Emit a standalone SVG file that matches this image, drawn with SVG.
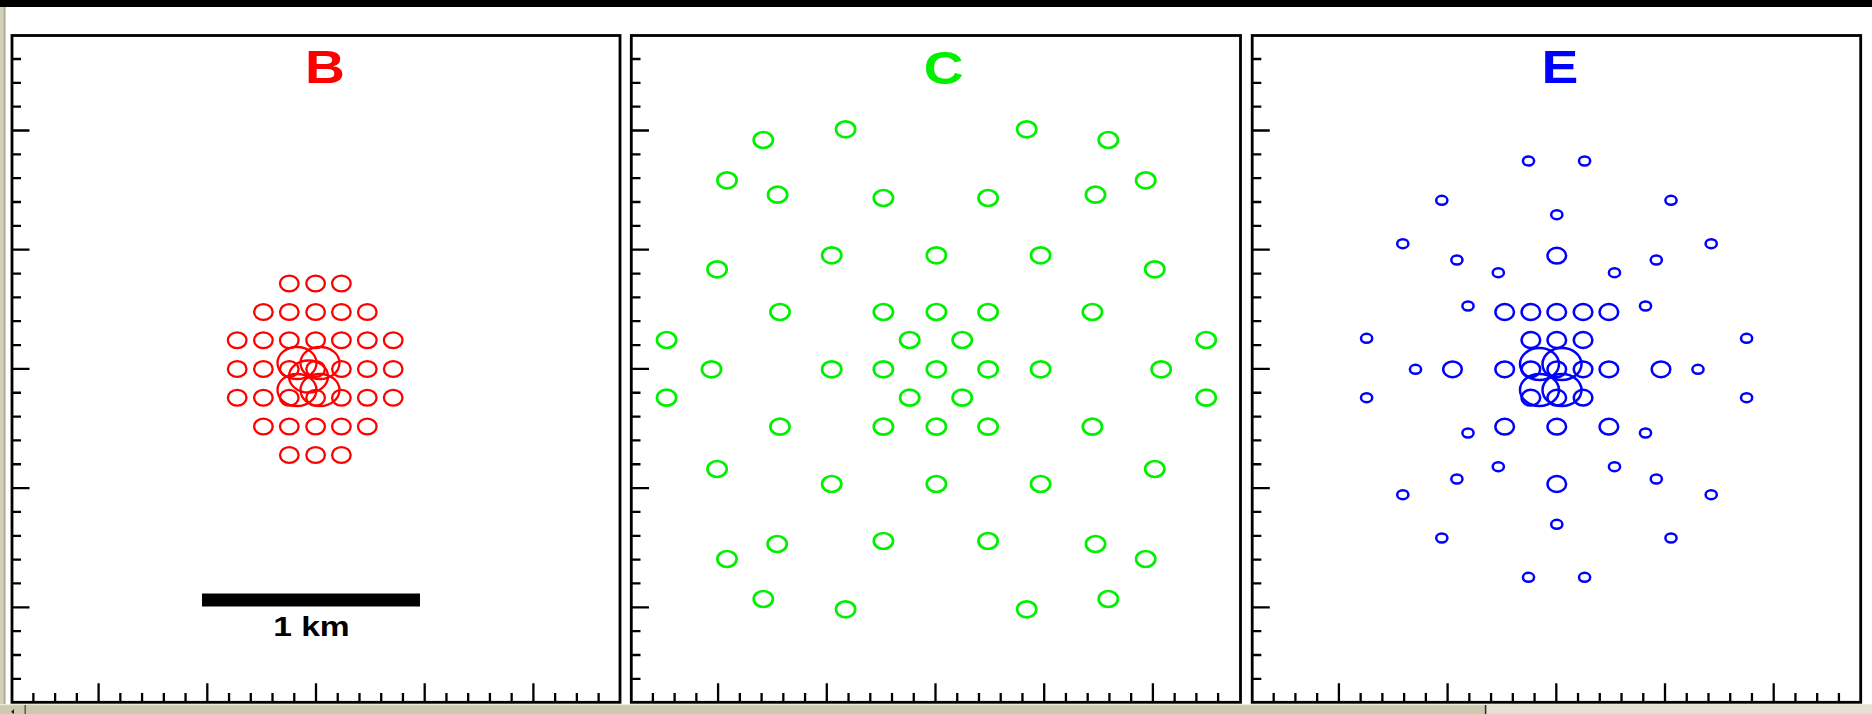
<svg xmlns="http://www.w3.org/2000/svg" xmlns:xlink="http://www.w3.org/1999/xlink" width="1872" height="714" viewBox="0 0 1872 714">
<style>
.frame{fill:none;stroke:#000;stroke-width:2.8}
.tick{fill:none;stroke:#000;stroke-width:2.3}
.ttl{font-family:"Liberation Sans",Arial,sans-serif;font-weight:bold;font-size:46px;text-anchor:middle}
.km{font-family:"Liberation Sans",Arial,sans-serif;font-weight:bold;font-size:28px;text-anchor:middle;fill:#000}
.r{fill:none;stroke:#ff0000;stroke-width:2.3}
.g{fill:none;stroke:#00f000;stroke-width:2.7}
.b{fill:none;stroke:#0000ff;stroke-width:2.5}
</style>
<defs>
<g id="axes">
<path class="tick" d="M12 58.98H21M12 82.82H21M12 106.66H21M12 130.5H29.5M12 154.34H21M12 178.18H21M12 202.02H21M12 225.86H21M12 249.7H29.5M12 273.54H21M12 297.38H21M12 321.22H21M12 345.06H21M12 368.9H29.5M12 392.74H21M12 416.58H21M12 440.42H21M12 464.26H21M12 488.1H29.5M12 511.94H21M12 535.78H21M12 559.62H21M12 583.46H21M12 607.3H29.5M12 631.14H21M12 654.98H21M12 678.82H21"/>
<path class="tick" d="M33.38 702V693M55.12 702V693M76.86 702V693M98.6 702V683.3M120.34 702V693M142.08 702V693M163.82 702V693M185.56 702V693M207.3 702V683.3M229.04 702V693M250.78 702V693M272.52 702V693M294.26 702V693M316 702V683.3M337.74 702V693M359.48 702V693M381.22 702V693M402.96 702V693M424.7 702V683.3M446.44 702V693M468.18 702V693M489.92 702V693M511.66 702V693M533.4 702V683.3M555.14 702V693M576.88 702V693M598.62 702V693"/>
</g>
<ellipse id="rs" class="r" rx="9.3" ry="7.9"/>
<ellipse id="rl" class="r" rx="19.5" ry="16"/>
<ellipse id="gs" class="g" rx="9.6" ry="8"/>
<ellipse id="bs" class="b" rx="5.6" ry="4.5"/>
<ellipse id="bm" class="b" rx="9.3" ry="7.9"/>
<ellipse id="bl" class="b" rx="19.5" ry="16"/>
</defs>

<rect x="0" y="0" width="1872" height="714" fill="#ffffff"/>
<rect x="0" y="0" width="1872" height="7" fill="#000"/>
<g id="chrome">
<rect x="0" y="7" width="6" height="697" fill="#d2cfb8"/>
<rect x="3.5" y="7" width="1.5" height="697" fill="#b4b098"/>
<rect x="0" y="704" width="1872" height="10" fill="#cdc9b0"/>
<rect x="0" y="704" width="1872" height="1.2" fill="#ecead8"/>
<rect x="1486" y="705" width="386" height="9" fill="#e3e1d6"/>
<rect x="1484.8" y="705" width="1.6" height="9" fill="#303030"/>
<rect x="24.5" y="705" width="1.4" height="9" fill="#505050"/>
<polygon points="11,712 14,709 14,714" fill="#202020"/>
</g>

<g id="panel-B">
<rect class="frame" x="12" y="35.5" width="608" height="666.8"/>
<use xlink:href="#axes"/>
<text class="ttl" fill="#ff0000" transform="translate(325,83.3) scale(1.2,1)">B</text>
<g id="B-sites">
<use xlink:href="#rs" x="289.3" y="283.5"/><use xlink:href="#rs" x="315.6" y="283.5"/><use xlink:href="#rs" x="341.4" y="283.5"/>
<use xlink:href="#rs" x="263.4" y="312"/><use xlink:href="#rs" x="289.3" y="312"/><use xlink:href="#rs" x="315.6" y="312"/><use xlink:href="#rs" x="341.4" y="312"/><use xlink:href="#rs" x="367.3" y="312"/>
<use xlink:href="#rs" x="237.2" y="340.3"/><use xlink:href="#rs" x="263.4" y="340.3"/><use xlink:href="#rs" x="289.3" y="340.3"/><use xlink:href="#rs" x="315.6" y="340.3"/><use xlink:href="#rs" x="341.4" y="340.3"/><use xlink:href="#rs" x="367.3" y="340.3"/><use xlink:href="#rs" x="393.2" y="340.3"/>
<use xlink:href="#rs" x="237.2" y="369"/><use xlink:href="#rs" x="263.4" y="369"/><use xlink:href="#rs" x="289.3" y="369"/><use xlink:href="#rs" x="315.6" y="369"/><use xlink:href="#rs" x="341.4" y="369"/><use xlink:href="#rs" x="367.3" y="369"/><use xlink:href="#rs" x="393.2" y="369"/>
<use xlink:href="#rs" x="237.2" y="397.7"/><use xlink:href="#rs" x="263.4" y="397.7"/><use xlink:href="#rs" x="289.3" y="397.7"/><use xlink:href="#rs" x="315.6" y="397.7"/><use xlink:href="#rs" x="341.4" y="397.7"/><use xlink:href="#rs" x="367.3" y="397.7"/><use xlink:href="#rs" x="393.2" y="397.7"/>
<use xlink:href="#rs" x="263.4" y="426.5"/><use xlink:href="#rs" x="289.3" y="426.5"/><use xlink:href="#rs" x="315.6" y="426.5"/><use xlink:href="#rs" x="341.4" y="426.5"/><use xlink:href="#rs" x="367.3" y="426.5"/>
<use xlink:href="#rs" x="289.3" y="455"/><use xlink:href="#rs" x="315.6" y="455"/><use xlink:href="#rs" x="341.4" y="455"/>
<use xlink:href="#rl" x="297" y="363"/><use xlink:href="#rl" x="320" y="363"/><use xlink:href="#rl" x="308.5" y="376.5"/><use xlink:href="#rl" x="297" y="390"/><use xlink:href="#rl" x="320" y="390"/>
</g>
<g id="scale-bar">
<rect x="202" y="593.5" width="218" height="13" fill="#000"/>
<text class="km" transform="translate(311.4,635.5) scale(1.2,1)">1 km</text>
</g>
</g>

<g id="panel-C">
<rect class="frame" x="631.3" y="35.5" width="609.2" height="666.8"/>
<use xlink:href="#axes" transform="translate(619.5,0)"/>
<text class="ttl" fill="#00f000" transform="translate(943.7,84) scale(1.2,1)">C</text>
<g id="C-sites">
<use xlink:href="#gs" x="763.3" y="140"/><use xlink:href="#gs" x="845.6" y="129.3"/><use xlink:href="#gs" x="1026.7" y="129.3"/><use xlink:href="#gs" x="1108.3" y="140"/>
<use xlink:href="#gs" x="727" y="180.3"/><use xlink:href="#gs" x="777.6" y="194.7"/><use xlink:href="#gs" x="883.4" y="198"/><use xlink:href="#gs" x="988.1" y="198"/><use xlink:href="#gs" x="1095.5" y="194.7"/><use xlink:href="#gs" x="1145.7" y="180.3"/>
<use xlink:href="#gs" x="831.7" y="255.3"/><use xlink:href="#gs" x="936.4" y="255.3"/><use xlink:href="#gs" x="1040.6" y="255.3"/><use xlink:href="#gs" x="717.1" y="269.3"/><use xlink:href="#gs" x="1154.8" y="269.3"/>
<use xlink:href="#gs" x="780" y="312"/><use xlink:href="#gs" x="883.4" y="312"/><use xlink:href="#gs" x="936.4" y="312"/><use xlink:href="#gs" x="988.1" y="312"/><use xlink:href="#gs" x="1092.4" y="312"/>
<use xlink:href="#gs" x="666.6" y="340"/><use xlink:href="#gs" x="909.7" y="340"/><use xlink:href="#gs" x="962.2" y="340"/><use xlink:href="#gs" x="1206.2" y="340"/>
<use xlink:href="#gs" x="711.5" y="369.3"/><use xlink:href="#gs" x="831.7" y="369.3"/><use xlink:href="#gs" x="883.4" y="369.3"/><use xlink:href="#gs" x="936.4" y="369.3"/><use xlink:href="#gs" x="988.1" y="369.3"/><use xlink:href="#gs" x="1040.6" y="369.3"/><use xlink:href="#gs" x="1161.2" y="369.3"/>
<use xlink:href="#gs" x="666.6" y="397.7"/><use xlink:href="#gs" x="909.7" y="397.7"/><use xlink:href="#gs" x="962.2" y="397.7"/><use xlink:href="#gs" x="1206.2" y="397.7"/>
<use xlink:href="#gs" x="780" y="426.7"/><use xlink:href="#gs" x="883.4" y="426.7"/><use xlink:href="#gs" x="936.4" y="426.7"/><use xlink:href="#gs" x="988.1" y="426.7"/><use xlink:href="#gs" x="1092.4" y="426.7"/>
<use xlink:href="#gs" x="717.1" y="469"/><use xlink:href="#gs" x="1154.8" y="469"/><use xlink:href="#gs" x="831.7" y="484"/><use xlink:href="#gs" x="936.4" y="484"/><use xlink:href="#gs" x="1040.6" y="484"/>
<use xlink:href="#gs" x="777.2" y="544"/><use xlink:href="#gs" x="883.4" y="541"/><use xlink:href="#gs" x="988.1" y="541"/><use xlink:href="#gs" x="1095.5" y="544"/><use xlink:href="#gs" x="727" y="559"/><use xlink:href="#gs" x="1145.7" y="559"/>
<use xlink:href="#gs" x="763.3" y="599"/><use xlink:href="#gs" x="1108.3" y="599"/><use xlink:href="#gs" x="845.6" y="609.3"/><use xlink:href="#gs" x="1026.7" y="609.3"/>
</g>
</g>

<g id="panel-E">
<rect class="frame" x="1252.2" y="35.5" width="608.5" height="666.8"/>
<use xlink:href="#axes" transform="translate(1240.3,0)"/>
<text class="ttl" fill="#0000ff" transform="translate(1559.8,83.3) scale(1.2,1)">E</text>
<g id="E-sites">
<use xlink:href="#bs" x="1528.5" y="161"/><use xlink:href="#bs" x="1584.6" y="161"/>
<use xlink:href="#bs" x="1441.8" y="200.3"/><use xlink:href="#bs" x="1671" y="200.3"/><use xlink:href="#bs" x="1556.8" y="214.7"/>
<use xlink:href="#bs" x="1402.8" y="243.7"/><use xlink:href="#bs" x="1711.2" y="243.7"/><use xlink:href="#bm" x="1556.8" y="255.7"/>
<use xlink:href="#bs" x="1456.9" y="260"/><use xlink:href="#bs" x="1656.3" y="260"/><use xlink:href="#bs" x="1498.3" y="272.7"/><use xlink:href="#bs" x="1614.5" y="272.7"/>
<use xlink:href="#bs" x="1468" y="306"/><use xlink:href="#bs" x="1645.5" y="306"/>
<use xlink:href="#bm" x="1504.7" y="312"/><use xlink:href="#bm" x="1530.9" y="312"/><use xlink:href="#bm" x="1556.8" y="312"/><use xlink:href="#bm" x="1583.1" y="312"/><use xlink:href="#bm" x="1608.9" y="312"/>
<use xlink:href="#bs" x="1366.6" y="338.3"/><use xlink:href="#bs" x="1746.6" y="338.3"/>
<use xlink:href="#bm" x="1530.9" y="340"/><use xlink:href="#bm" x="1556.8" y="340"/><use xlink:href="#bm" x="1583.1" y="340"/>
<use xlink:href="#bs" x="1415.5" y="369.3"/><use xlink:href="#bm" x="1452.5" y="369.3"/><use xlink:href="#bm" x="1504.7" y="369.3"/><use xlink:href="#bm" x="1530.9" y="369.3"/><use xlink:href="#bm" x="1556.8" y="369.3"/><use xlink:href="#bm" x="1583.1" y="369.3"/><use xlink:href="#bm" x="1608.9" y="369.3"/><use xlink:href="#bm" x="1661" y="369.3"/><use xlink:href="#bs" x="1698" y="369.3"/>
<use xlink:href="#bs" x="1366.6" y="397.7"/><use xlink:href="#bm" x="1530.9" y="397.7"/><use xlink:href="#bm" x="1556.8" y="397.7"/><use xlink:href="#bm" x="1583.1" y="397.7"/><use xlink:href="#bs" x="1746.6" y="397.7"/>
<use xlink:href="#bl" x="1539.5" y="364"/><use xlink:href="#bl" x="1562" y="364"/><use xlink:href="#bl" x="1539.5" y="390"/><use xlink:href="#bl" x="1562" y="390"/>
<use xlink:href="#bm" x="1504.7" y="426.7"/><use xlink:href="#bm" x="1556.8" y="426.7"/><use xlink:href="#bm" x="1608.9" y="426.7"/><use xlink:href="#bs" x="1468" y="433"/><use xlink:href="#bs" x="1645.5" y="433"/>
<use xlink:href="#bs" x="1498.3" y="466.7"/><use xlink:href="#bs" x="1614.5" y="466.7"/><use xlink:href="#bs" x="1456.9" y="479"/><use xlink:href="#bs" x="1656.3" y="479"/><use xlink:href="#bm" x="1556.8" y="484"/>
<use xlink:href="#bs" x="1402.8" y="494.7"/><use xlink:href="#bs" x="1711.2" y="494.7"/><use xlink:href="#bs" x="1556.8" y="524.3"/>
<use xlink:href="#bs" x="1441.8" y="538"/><use xlink:href="#bs" x="1671" y="538"/><use xlink:href="#bs" x="1528.5" y="577.3"/><use xlink:href="#bs" x="1584.6" y="577.3"/>
</g>
</g>
</svg>
